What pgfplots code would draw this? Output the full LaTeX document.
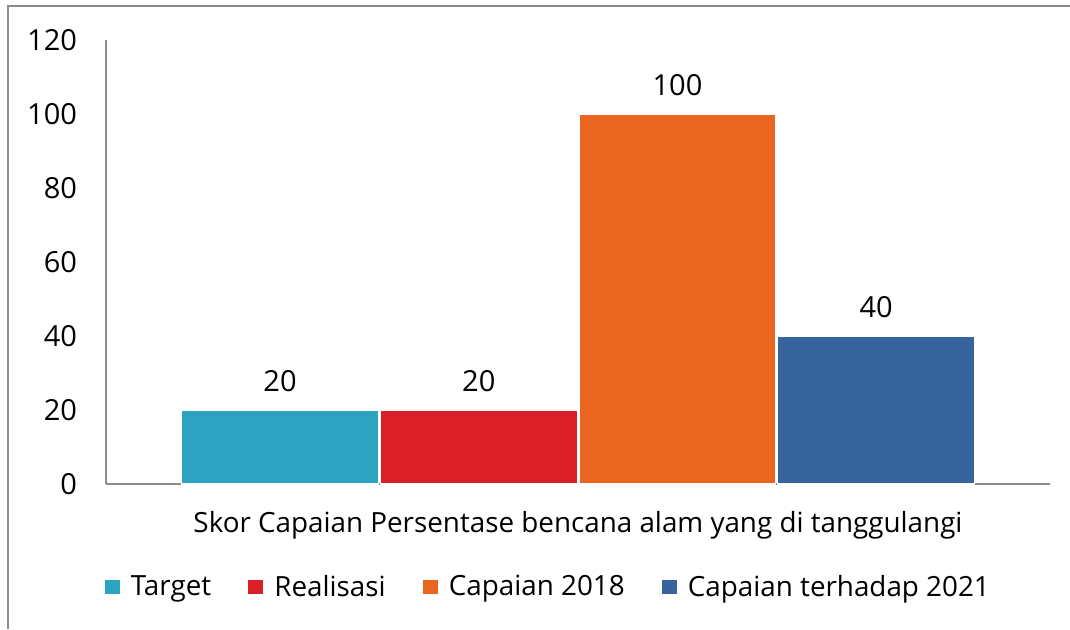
\documentclass[border=0pt]{standalone}
\usepackage{fontspec}
\setmainfont{Open Sans}
\usepackage{pgfplots}
\pgfplotsset{compat=1.18}
\definecolor{cTarget}{HTML}{2CA3C1}
\definecolor{cReal}{HTML}{DA1F28}
\definecolor{cCap}{HTML}{EA651F}
\definecolor{cCap21}{HTML}{38649E}
\definecolor{lineGray}{HTML}{8C8C8C}
\begin{document}
\begin{tikzpicture}
  \useasboundingbox (0pt,0pt) rectangle (535pt,314.5pt);
  % outer frame (left and top edges visible)
  \draw[lineGray, line width=1.2pt] (4pt,0pt) -- (4pt,311.5pt) -- (535pt,311.5pt);
  \begin{axis}[
    at={(53pt,72.5pt)}, anchor=south west,
    scale only axis,
    width=472pt, height=222pt,
    xmin=-0.876, xmax=3.875,
    ymin=0, ymax=120,
    ytick={0,20,...,120},
    xtick=\empty,
    axis x line*=bottom, axis y line*=left,
    axis line style={lineGray, line width=0.8pt, -},
    major tick length=0pt,
    /pgf/number format/assume math mode=true,
    tick label style={font=\fontsize{14.5}{16}\selectfont, black},
    yticklabel style={xshift=-11pt},
    ybar, bar width=0.99, bar shift=0pt,
    nodes near coords,
    every node near coord/.append style={font=\fontsize{14.5}{16}\selectfont, black, yshift=5.5pt},
    xlabel={Skor Capaian Persentase bencana alam yang di tanggulangi},
    xlabel style={font=\fontsize{13.9}{16}\selectfont, at={(0.5,-0.0923)}, anchor=center},
    legend columns=4,
    legend style={draw=none, at={(0.469,-0.232)}, anchor=center,
      font=\fontsize{13.9}{16}\selectfont,
      /tikz/every odd column/.append style={column sep=3pt},
      /tikz/every even column/.append style={column sep=16pt}},
    legend image code/.code={\fill[#1] (0pt,-4pt) rectangle (8pt,4pt);},
  ]
    \addplot[fill=cTarget, draw=white, line width=0.6pt] coordinates {(0,20)};
    \addlegendentry{Target}
    \addplot[fill=cReal, draw=white, line width=0.6pt] coordinates {(1,20)};
    \addlegendentry{Realisasi}
    \addplot[fill=cCap, draw=white, line width=0.6pt] coordinates {(2,100)};
    \addlegendentry{Capaian 2018}
    \addplot[fill=cCap21, draw=white, line width=0.6pt] coordinates {(3,40)};
    \addlegendentry{Capaian terhadap 2021}
  \end{axis}
\end{tikzpicture}
\end{document}
